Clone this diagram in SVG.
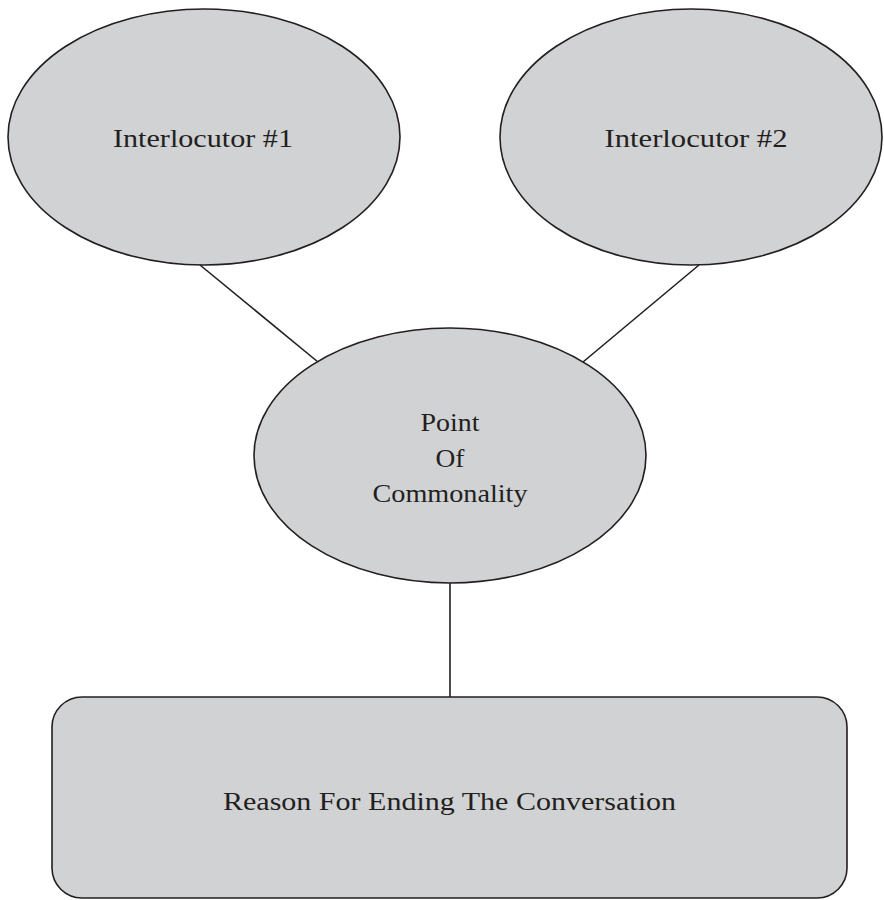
<svg xmlns="http://www.w3.org/2000/svg" width="884" height="900" viewBox="0 0 884 900">
<style>
.node{fill:#d1d2d4;stroke:#231f20;stroke-width:1.6}
.lbl{font-family:"Liberation Serif","Times New Roman",serif;font-size:26px;fill:#231f20;text-anchor:middle}
.conn{stroke:#231f20;stroke-width:1.6;fill:none}
</style>
<rect width="884" height="900" fill="#ffffff"/>
<g id="connectors">
<line class="conn" x1="200" y1="265" x2="318" y2="362"/>
<line class="conn" x1="699" y1="265" x2="583" y2="362"/>
<line class="conn" x1="450" y1="583" x2="450" y2="697"/>
</g>
<g id="interlocutor1">
<ellipse class="node" cx="204" cy="137" rx="196" ry="128"/>
<text class="lbl" x="203" y="147" textLength="180" lengthAdjust="spacingAndGlyphs">Interlocutor #1</text>
</g>
<g id="interlocutor2">
<ellipse class="node" cx="691" cy="137" rx="191" ry="128"/>
<text class="lbl" x="696" y="147" textLength="183" lengthAdjust="spacingAndGlyphs">Interlocutor #2</text>
</g>
<g id="commonality">
<ellipse class="node" cx="450" cy="455.5" rx="196" ry="127.5"/>
<text class="lbl" x="450" y="431" textLength="59" lengthAdjust="spacingAndGlyphs">Point</text>
<text class="lbl" x="450" y="467" textLength="29" lengthAdjust="spacingAndGlyphs">Of</text>
<text class="lbl" x="450" y="502" textLength="155" lengthAdjust="spacingAndGlyphs">Commonality</text>
</g>
<g id="reason">
<rect class="node" x="52" y="697" width="795" height="201" rx="30" ry="30"/>
<text class="lbl" x="449.5" y="810" textLength="453" lengthAdjust="spacingAndGlyphs">Reason For Ending The Conversation</text>
</g>
</svg>
